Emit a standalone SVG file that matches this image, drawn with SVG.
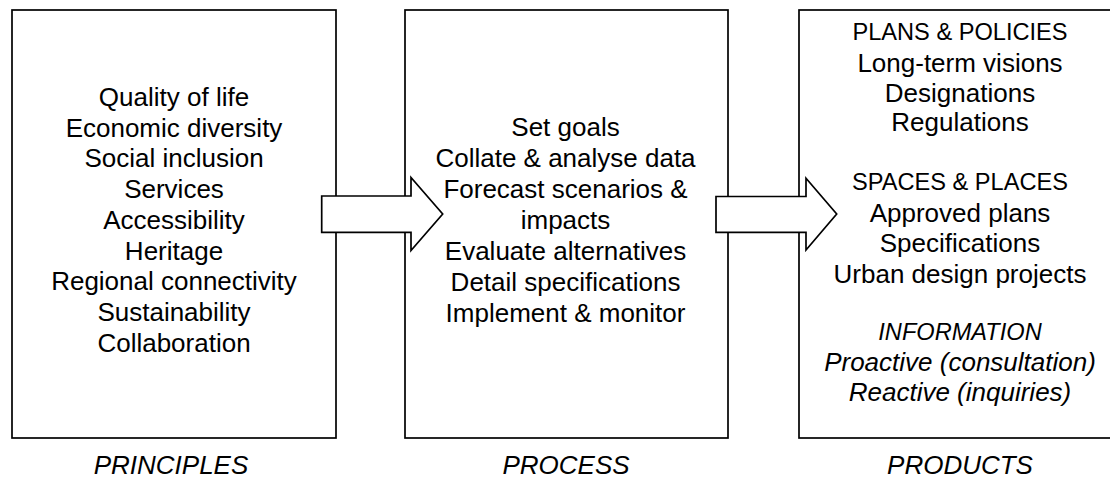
<svg xmlns="http://www.w3.org/2000/svg" width="1110" height="478" viewBox="0 0 1110 478">
<style>
.box{fill:#fff;stroke:#000;stroke-width:1.7}
.arr{fill:#fff;stroke:#000;stroke-width:1.7;stroke-linejoin:miter}
text{font-family:"Liberation Sans",Arial,sans-serif;font-size:26px;fill:#000;text-anchor:middle}
.h{font-size:23.6px}
.i{font-style:italic}
</style>
<rect width="1110" height="478" fill="#fff"/>
<g id="principles">
<rect class="box" x="12" y="10" width="324" height="428"/>
<text x="174" y="106">Quality of life</text>
<text x="174" y="136.7">Economic diversity</text>
<text x="174" y="167.4">Social inclusion</text>
<text x="174" y="198">Services</text>
<text x="174" y="228.8">Accessibility</text>
<text x="174" y="259.5">Heritage</text>
<text x="174" y="290.2">Regional connectivity</text>
<text x="174" y="321">Sustainability</text>
<text x="174" y="351.7">Collaboration</text>
<text class="i" x="171" y="474">PRINCIPLES</text>
</g>
<g id="process">
<rect class="box" x="405" y="10" width="323" height="428"/>
<text x="565.5" y="136">Set goals</text>
<text x="565.5" y="167">Collate &amp; analyse data</text>
<text x="565.5" y="198">Forecast scenarios &amp;</text>
<text x="565.5" y="228.8">impacts</text>
<text x="565.5" y="259.7">Evaluate alternatives</text>
<text x="565.5" y="290.6">Detail specifications</text>
<text x="565.5" y="321.7">Implement &amp; monitor</text>
<text class="i" x="566" y="474">PROCESS</text>
</g>
<g id="products">
<rect class="box" x="799" y="10" width="330" height="428"/>
<text class="h" x="960" y="40">PLANS &amp; POLICIES</text>
<text x="960" y="71.7">Long-term visions</text>
<text x="960" y="101.7">Designations</text>
<text x="960" y="130.7">Regulations</text>
<text class="h" x="960" y="190">SPACES &amp; PLACES</text>
<text x="960" y="221.7">Approved plans</text>
<text x="960" y="251.7">Specifications</text>
<text x="960" y="283.3">Urban design projects</text>
<text class="h i" x="960" y="340">INFORMATION</text>
<text class="i" x="960" y="371">Proactive (consultation)</text>
<text class="i" x="960" y="401">Reactive (inquiries)</text>
<text class="i" x="960" y="474">PRODUCTS</text>
</g>
<g id="connectors">
<polygon class="arr" points="321.7,196 411,196 411,177.5 442.7,214 411,250.5 411,232.3 321.7,232.3"/>
<polygon class="arr" points="716,196.5 806,196.5 806,178.3 836.7,214 806,250 806,232.3 716,232.3"/>
</g>
</svg>
